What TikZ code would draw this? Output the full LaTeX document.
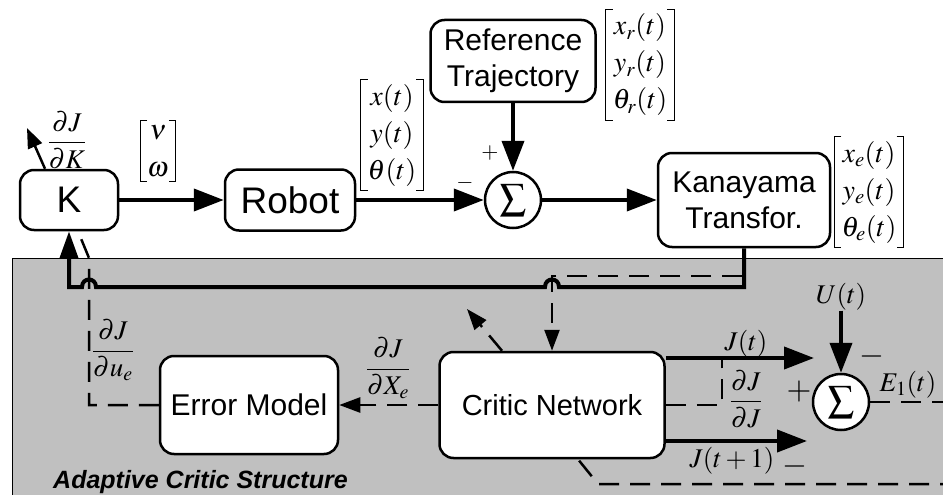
\documentclass[tikz,border=0pt]{standalone}
\usepackage{amsmath}
\usepackage{mathptmx}
\usepackage[no-math]{fontspec}
\setmainfont{Liberation Serif}
\newfontfamily\arialfam{Liberation Sans}
\usetikzlibrary{arrows.meta}
\definecolor{panelgray}{RGB}{192,192,192}

% thin square brackets around a column-vector node
\newcommand\vbrackets[1]{%
  \draw[brk] ([xshift=7pt]#1.north west) -- (#1.north west) -- (#1.south west) -- ([xshift=7pt]#1.south west);
  \draw[brk] ([xshift=-7pt]#1.north east) -- (#1.north east) -- (#1.south east) -- ([xshift=-7pt]#1.south east);}

\begin{document}
\begin{tikzpicture}[x=1pt,y=-1pt,
  blk/.style={draw, line width=2.5pt, rounded corners=14pt, fill=white, align=center,
    font=\arialfam\fontsize{30}{36}\selectfont, inner sep=0pt},
  sumc/.style={draw, circle, line width=2.5pt, fill=white, minimum size=56pt, inner sep=0pt,
    font=\fontsize{26}{26}\selectfont},
  flow/.style={line width=4pt, -{Triangle[length=30pt,width=22pt]}},
  sig/.style={line width=2.5pt, dash pattern=on 20pt off 11pt},
  sigarr/.style={sig, -{Triangle[length=21pt,width=15pt]}},
  lbl/.style={font=\fontsize{27}{30}\selectfont, inner sep=0pt},
  sgn/.style={font=\fontsize{22}{24}\selectfont, inner sep=0pt},
  bigsgn/.style={font=\fontsize{32}{34}\selectfont, inner sep=0pt},
  vec/.style={font=\fontsize{28}{37}\selectfont, align=center, inner xsep=7pt, inner ysep=4pt},
  brk/.style={line width=1pt},
]
\useasboundingbox (0,0) rectangle (943,495);

% shaded panel of the adaptive critic
\fill[panelgray] (12,258) rectangle (960,510);
\draw[line width=1pt] (960,258) -- (12,258) -- (12,510);

% blocks
\node[blk, minimum width=98pt, minimum height=60pt, font=\arialfam\fontsize{37}{40}\selectfont] (K) at (69,200) {K};
\node[blk, minimum width=130pt, minimum height=61pt, font=\arialfam\fontsize{37}{40}\selectfont] (Rob) at (290,200) {Robot};
\node[blk, minimum width=165pt, minimum height=82pt] (Ref) at (513,61) {Reference\\Trajectory};
\node[blk, minimum width=172pt, minimum height=94pt] (Kan) at (744,200) {Kanayama\\Transfor.};
\node[blk, minimum width=225pt, minimum height=106pt, font=\arialfam\fontsize{29}{34}\selectfont] (Crit) at (552,405) {Critic Network};
\node[blk, minimum width=178pt, minimum height=98pt] (EM) at (249,405) {Error Model};
\node[sumc] (S1) at (513,200) {$\displaystyle\sum$};
\node[sumc] (S2) at (841,402) {$\displaystyle\sum$};

% vectors
\node[vec] (vu) at (158,151) {$\nu$\\$\omega$};
\vbrackets{vu}
\node[vec] (vq) at (392,135) {$x(t)$\\$y(t)$\\$\theta(t)$};
\vbrackets{vq}
\node[vec] (vr) at (640,65) {$x_r(t)$\\$y_r(t)$\\$\theta_r(t)$};
\vbrackets{vr}
\node[vec] (ve) at (869,192) {$x_e(t)$\\$y_e(t)$\\$\theta_e(t)$};
\vbrackets{ve}

% forward path
\draw[flow] (K) -- (Rob);
\draw[flow] (Rob) -- (S1);
\draw[flow] (Ref) -- (S1);
\draw[flow] (S1) -- (Kan);

% error feedback to the controller, hopping over the dashed lines
\draw[line width=4pt, -{Triangle[length=27pt,width=18pt]}]
  (Kan.south) -- (744,287) -- (559,287) .. controls (559,277) and (545,277) .. (545,287)
  -- (96,287) .. controls (96,277) and (82,277) .. (82,287) -- (69,287) -- (K.south);

% gain update
\coordinate (kgrad) at (27,128);
\draw[line width=2.5pt, -{Triangle[length=20pt,width=15pt]}] ([xshift=-24pt]K.north) -- (kgrad);
\node[lbl] (dJdK) at (67,140) {$\dfrac{\partial J}{\partial K}$};

% critic signals
\coordinate (tap) at (742,276);
\draw[sigarr] (tap) -- (552,276) -- (Crit.north);
\coordinate (wtip) at (467,309);
\draw[sigarr] ([xshift=-50pt]Crit.north) -- (wtip);
\draw[sigarr] (Crit.west) -- (EM.east);
\node[lbl] (dJdX) at (388,368) {$\dfrac{\partial J}{\partial X_e}$};
\draw[sig] (EM.west) -- (89,405) -- (89,258) -- ([xshift=9pt]K.south);
\node[lbl] (dJdu) at (113,350) {$\dfrac{\partial J}{\partial u_e}$};

\coordinate (jt) at (814,358);
\draw[flow] (Crit.east |- jt) -- (jt);
\node[lbl] (Jt) at (746,344) {$J(t)$};
\coordinate (jt1) at (807,441);
\draw[flow] (Crit.east |- jt1) -- (jt1);
\node[lbl] (Jt1) at (732,461) {$J(t+1)$};
\draw[sig] (Crit.east) -- (722,405) -- (722,360);
\node[lbl] (dJdJ) at (746,399) {$\dfrac{\partial J}{\partial J}$};

\node[lbl] (U) at (841,297) {$U(t)$};
\draw[flow] (U) -- (S2);
\coordinate (e1end) at (960,402);
\draw[sig] (S2.east) -- (e1end);
\node[lbl] (E1) at (908,385) {$E_1(t)$};
\coordinate (bend) at (960,484);
\draw[sig] (bend) -- (598,484) -- ([xshift=26pt]Crit.south);

% signs at the summing junctions
\node[sgn] (p1) at (490,153) {$+$};
\node[sgn] (m1) at (465,183) {$-$};
\node[bigsgn] (p2) at (799,392) {$+$};
\node[bigsgn] (m2) at (872,356) {$-$};
\node[bigsgn] (m3) at (795,466) {$-$};

\node[anchor=base west, inner sep=0pt, font=\arialfam\bfseries\itshape\fontsize{25}{28}\selectfont] (acs) at (53,488) {Adaptive Critic Structure};
\end{tikzpicture}
\end{document}
